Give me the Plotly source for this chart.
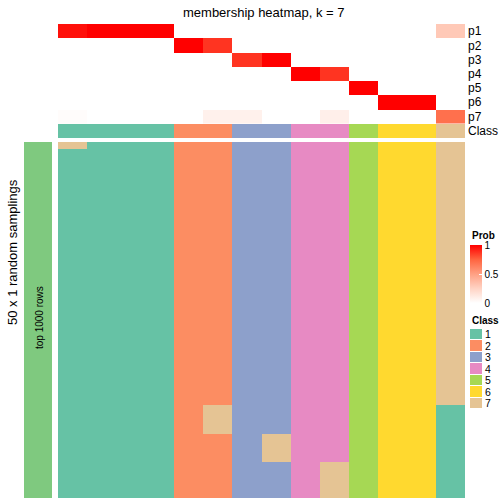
import plotly.graph_objects as go

W = H = 504

# ---------------- data ----------------
row_labels = ["p1", "p2", "p3", "p4", "p5", "p6", "p7"]
p1 = [0.96, 1, 1, 1, 0, 0, 0, 0, 0, 0, 0, 0, 0, 0.3]
p2 = [0, 0, 0, 0, 1, 0.87, 0, 0, 0, 0, 0, 0, 0, 0]
p3 = [0, 0, 0, 0, 0, 0, 0.87, 1, 0, 0, 0, 0, 0, 0]
p4 = [0, 0, 0, 0, 0, 0, 0, 0, 1, 0.87, 0, 0, 0, 0]
p5 = [0, 0, 0, 0, 0, 0, 0, 0, 0, 0, 1, 0, 0, 0]
p6 = [0, 0, 0, 0, 0, 0, 0, 0, 0, 0, 0, 1, 1, 0]
p7 = [0.015, 0, 0, 0, 0, 0.08, 0.08, 0, 0, 0.09, 0, 0, 0, 0.7]
class_row = [1, 1, 1, 1, 2, 2, 3, 3, 4, 4, 5, 6, 6, 7]
class_labels = ["1", "2", "3", "4", "5", "6", "7"]
class_colors = ["#66C2A5", "#FC8D62", "#8DA0CB", "#E78AC3", "#A6D854", "#FFD92F", "#E5C494"]
# 50 random samplings (rows) x 14 samples: (number of rows, class per sample)
sampling_runs = [
    (1, "71112233445667"),
    (36, "11112233445667"),
    (4, "11112733445661"),
    (4, "11112237445661"),
    (5, "11112233475661"),
]
title_text = "membership heatmap, k = 7"
left_title = "50 x 1 random samplings"
bar_label = "top 1000 rows"
bar_color = "#7FC97F"

# ---------------- helpers ----------------
sampling = []
for n, pat in sampling_runs:
    for _ in range(n):
        sampling.append([int(c) for c in pat])

prob = [p1, p2, p3, p4, p5, p6, p7]

def px_x(v):
    return v / W

def px_y(v):
    return 1 - v / H

ncls = len(class_colors)
disc_scale = []
for i, c in enumerate(class_colors):
    disc_scale.append([i / ncls, c])
    disc_scale.append([(i + 1) / ncls, c])

prob_scale = [[0, "#FFFFFF"], [0.25, "#FFD3C4"], [0.5, "#FFA083"],
              [0.75, "#FF6440"], [1, "#FF0000"]]

FONT = "Liberation Sans, Arial, Helvetica, sans-serif"

fig = go.Figure()

# probability heatmap
fig.add_trace(go.Heatmap(
    z=prob, colorscale=prob_scale, zmin=0, zmax=1, xaxis="x", yaxis="y",
    hoverinfo="skip",
    colorbar=dict(
        x=px_x(470), xanchor="left", y=px_y(245), yanchor="top",
        len=(303 - 245) / H, lenmode="fraction", thickness=12, xpad=0, ypad=0,
        outlinewidth=0, tickvals=[0, 0.5, 1], ticktext=["0", "0.5", "1"],
        ticks="inside", ticklen=3, tickcolor="white",
        tickfont=dict(size=10, family=FONT, color="black"),
    ),
))

# class row
fig.add_trace(go.Heatmap(
    z=[class_row], colorscale=disc_scale, zmin=0.5, zmax=ncls + 0.5,
    showscale=False, xaxis="x2", yaxis="y2", hoverinfo="skip"))

# sampling heatmap
fig.add_trace(go.Heatmap(
    z=sampling, colorscale=disc_scale, zmin=0.5, zmax=ncls + 0.5,
    showscale=False, xaxis="x3", yaxis="y3", hoverinfo="skip"))

# left annotation bar
fig.add_trace(go.Heatmap(
    z=[[1]], colorscale=[[0, bar_color], [1, bar_color]],
    showscale=False, xaxis="x4", yaxis="y4", hoverinfo="skip"))

# class legend
fig.add_trace(go.Heatmap(
    z=[[i + 1] for i in range(ncls)], colorscale=disc_scale, zmin=0.5,
    zmax=ncls + 0.5, showscale=False, xaxis="x5", yaxis="y5",
    ygap=1, hoverinfo="skip"))

hid = dict(showgrid=False, zeroline=False, showline=False, showticklabels=False,
           ticks="", fixedrange=True)

hx = [58, 465]
fig.update_layout(
    width=W, height=H, margin=dict(l=0, r=0, t=0, b=0),
    paper_bgcolor="white", plot_bgcolor="white", showlegend=False,
    font=dict(family=FONT, color="black"),
    xaxis=dict(domain=[px_x(hx[0]), px_x(hx[1])], range=[-0.5, 13.5], anchor="y", **hid),
    yaxis=dict(domain=[px_y(123.5), px_y(24)], range=[6.5, -0.5], anchor="x",
               side="right", showgrid=False, zeroline=False, showline=False,
               tickvals=list(range(7)), ticktext=row_labels, ticks="",
               ticklabelstandoff=2,
               tickfont=dict(size=12, family=FONT), fixedrange=True),
    xaxis2=dict(domain=[px_x(hx[0]), px_x(hx[1])], range=[-0.5, 13.5], anchor="y2", **hid),
    yaxis2=dict(domain=[px_y(138), px_y(124)], range=[0.5, -0.5], anchor="x2",
                side="right", showgrid=False, zeroline=False, showline=False,
                tickvals=[0], ticktext=["Class"], ticks="", ticklabelstandoff=2,
                tickfont=dict(size=12, family=FONT), fixedrange=True),
    xaxis3=dict(domain=[px_x(hx[0]), px_x(hx[1])], range=[-0.5, 13.5], anchor="y3", **hid),
    yaxis3=dict(domain=[px_y(498), px_y(142)], range=[49.5, -0.5], anchor="x3", **hid),
    xaxis4=dict(domain=[px_x(24), px_x(52)], range=[-0.5, 0.5], anchor="y4", **hid),
    yaxis4=dict(domain=[px_y(498), px_y(142)], range=[-0.5, 0.5], anchor="x4", **hid),
    xaxis5=dict(domain=[px_x(470), px_x(482)], range=[-0.5, 0.5], anchor="y5", **hid),
    yaxis5=dict(domain=[px_y(409), px_y(329)], range=[6.5, -0.5], anchor="x5",
                side="right", showgrid=False, zeroline=False, showline=False,
                tickvals=list(range(7)), ticktext=class_labels, ticks="",
                ticklabelstandoff=2,
                tickfont=dict(size=10.5, family=FONT), fixedrange=True),
    annotations=[
        dict(text=title_text, x=px_x(263.5), y=px_y(12), xref="paper", yref="paper",
             xanchor="center", yanchor="middle",
             showarrow=False, font=dict(size=13, family=FONT)),
        dict(text=left_title, x=px_x(12), y=px_y(252), xref="paper", yref="paper",
             xanchor="center", yanchor="middle",
             showarrow=False, textangle=-90, font=dict(size=13, family=FONT)),
        dict(text=bar_label, x=px_x(39), y=px_y(318), xref="paper", yref="paper",
             xanchor="center", yanchor="middle",
             showarrow=False, textangle=-90, font=dict(size=10, family=FONT)),
        dict(text="<b>Prob</b>", x=px_x(470), y=px_y(235), xref="paper", yref="paper",
             xanchor="left", yanchor="middle", showarrow=False,
             font=dict(size=10, family=FONT)),
        dict(text="<b>Class</b>", x=px_x(470), y=px_y(320), xref="paper", yref="paper",
             xanchor="left", yanchor="middle", showarrow=False,
             font=dict(size=10, family=FONT)),
    ],
)

fig.write_html("out.html", config={"displayModeBar": False},
               post_script="document.body.style.margin='0';document.body.style.overflow='hidden';")
